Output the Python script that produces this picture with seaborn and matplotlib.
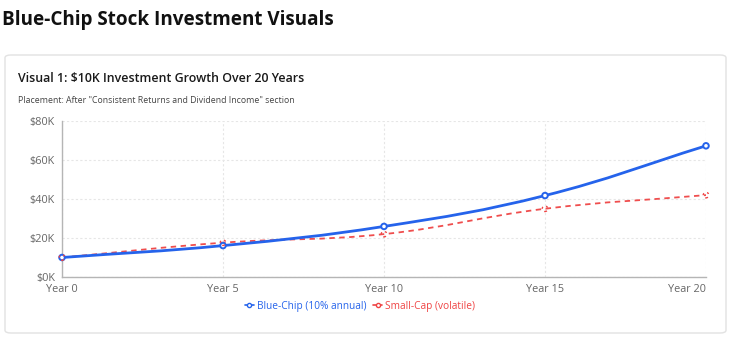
import numpy as np
import pandas as pd
import matplotlib
matplotlib.use("Agg")
import matplotlib.pyplot as plt
import seaborn as sns
from matplotlib.path import Path
from matplotlib.patches import PathPatch, FancyBboxPatch
from matplotlib.lines import Line2D

# Data
years = [0, 5, 10, 15, 20]
year_labels = ["Year 0", "Year 5", "Year 10", "Year 15", "Year 20"]
blue_chip = [10000, 16105, 25937, 41772, 67275]
small_cap = [10000, 17600, 22000, 35000, 42000]
y_ticks = [0, 20000, 40000, 60000, 80000]
y_tick_labels = ["$0K", "$20K", "$40K", "$60K", "$80K"]

BLUE = "#2563eb"
RED = "#ef4444"
DASH = (0, (3, 2.5))

sns.set_theme(style="white")
plt.rcParams["font.family"] = ["Open Sans", "DejaVu Sans"]

W, H = 734, 343
fig = plt.figure(figsize=(W / 100, H / 100), dpi=100)

# Card behind the chart
card = FancyBboxPatch((5 / W, 1 - 333 / H), 721 / W, 278 / H,
                      boxstyle="round,pad=0,rounding_size=0.008",
                      transform=fig.transFigure, facecolor="white",
                      edgecolor="#e2e2e2", linewidth=1.0, zorder=-5)
fig.add_artist(card)

fig.text(2 / W, 1 - 20 / H, "Blue-Chip Stock Investment Visuals",
         fontsize=13.55, fontweight="bold", color="#111111", va="center", ha="left")
fig.text(18 / W, 1 - 79 / H, "Visual 1: $10K Investment Growth Over 20 Years",
         fontsize=8.9, fontweight="semibold", color="#1a1a1a", va="center", ha="left")
fig.text(18 / W, 1 - 100 / H,
         'Placement: After "Consistent Returns and Dividend Income" section',
         fontsize=6.3, color="#444444", va="center", ha="left")

ax = fig.add_axes([62 / W, 1 - 277 / H, (706 - 62) / W, (277 - 121) / H])
ax.set_zorder(2)
ax.set_xlim(0, 20)
ax.set_ylim(0, 80000)
ax.patch.set_alpha(0)

df = pd.DataFrame({
    "year": years * 2,
    "value": blue_chip + small_cap,
    "series": ["Blue-Chip (10% annual)"] * 5 + ["Small-Cap (volatile)"] * 5,
})


def smooth_path(xs, ys, tension=0.4):
    """Cubic spline through the points with tension-based control points, in pixel space."""
    pts = ax.transData.transform(np.column_stack([xs, ys]))
    n = len(pts)
    verts = [pts[0]]
    codes = [Path.MOVETO]
    cps = []
    for i in range(n):
        p0 = pts[max(i - 1, 0)]
        p1 = pts[i]
        p2 = pts[min(i + 1, n - 1)]
        d01 = np.hypot(*(p1 - p0))
        d12 = np.hypot(*(p2 - p1))
        tot = d01 + d12
        s01 = d01 / tot if tot else 0
        s12 = d12 / tot if tot else 0
        prev_cp = p1 - tension * s01 * (p2 - p0)
        next_cp = p1 + tension * s12 * (p2 - p0)
        cps.append((prev_cp, next_cp))
    for i in range(1, n):
        verts += [cps[i - 1][1], cps[i][0], pts[i]]
        codes += [Path.CURVE4] * 3
    inv = ax.transData.inverted()
    return Path(inv.transform(np.array(verts)), codes)


# Smooth lines
ax.add_patch(PathPatch(smooth_path(years, blue_chip), facecolor="none",
                       edgecolor=BLUE, linewidth=2.0, zorder=4))
ax.add_patch(PathPatch(smooth_path(years, small_cap), facecolor="none",
                       edgecolor=RED, linewidth=1.3, linestyle=DASH,
                       alpha=0.95, zorder=3))

# Point markers via seaborn
sns.scatterplot(data=df, x="year", y="value", hue="series",
                palette=[BLUE, RED], ax=ax, legend=False,
                s=16, linewidth=1.4, zorder=5)
pts_coll = ax.collections[-1]
pts_coll.set_edgecolors([BLUE] * 5 + [RED] * 5)
pts_coll.set_facecolors([(1, 1, 1, 1)] * 5 + [(1, 1, 1, 0)] * 5)
pts_coll.set_linestyles(["solid"] * 5 + [(0, (1.5, 2.5))] * 5)
pts_coll.set_linewidths([1.4] * 5 + [1.0] * 5)
pts_coll.set_clip_on(False)

# Axes styling
ax.set_xticks(years)
ax.set_xticklabels(year_labels)
ax.set_yticks(y_ticks)
ax.set_yticklabels(y_tick_labels)
ax.set_xlabel("")
ax.set_ylabel("")
ax.tick_params(axis="both", labelsize=7.8, labelcolor="#666666", length=4,
               width=0.8, pad=1, color="#dddddd")
ax.xaxis.get_major_ticks()[-1].label1.set_horizontalalignment("right")
ax.grid(True, color="#e6e6e6", linestyle=(0, (2, 2)), linewidth=0.8)
for side in ["top", "right"]:
    ax.spines[side].set_visible(False)
for side in ["left", "bottom"]:
    ax.spines[side].set_color("#b5b5b5")
    ax.spines[side].set_linewidth(1.0)

# Legend
handles = [
    Line2D([0], [0], color=BLUE, lw=1.2, marker="o", markersize=3,
           markerfacecolor="white", markeredgecolor=BLUE),
    Line2D([0], [0], color=RED, lw=1.2, marker="o", markersize=3,
           markerfacecolor="white", markeredgecolor=RED),
]
leg = fig.legend(handles, ["Blue-Chip (10% annual)", "Small-Cap (volatile)"],
                 loc="center", bbox_to_anchor=(360 / W, 1 - 306 / H),
                 ncol=2, frameon=False, fontsize=7.3, handlelength=0.9,
                 handletextpad=0.3, columnspacing=0.7)
for txt, col in zip(leg.get_texts(), [BLUE, RED]):
    txt.set_color(col)

fig.savefig("out.png", dpi=100)
